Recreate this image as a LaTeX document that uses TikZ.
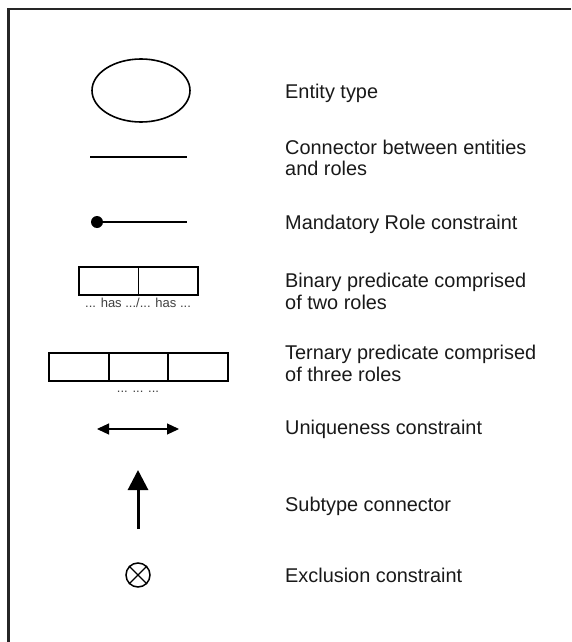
\documentclass[tikz,border=0pt]{standalone}
\usepackage{fontspec}
\setmainfont{Liberation Sans}
\usetikzlibrary{shapes.geometric,arrows.meta}
\begin{document}
\begin{tikzpicture}[x=1pt,y=-1pt,
  lbl/.style={font=\fontsize{19.9}{22}\selectfont, anchor=base west, inner sep=0pt, text=black!90},
  small/.style={font=\fontsize{13}{14}\selectfont, inner sep=0pt, text=black!75},
  rolebox/.style={draw, line width=1.8pt, rectangle, minimum width=59.5pt, minimum height=28pt, inner sep=0pt},
  thin/.style={line width=1.2pt},
  border/.style={line width=2.6pt, black!85}
]
\useasboundingbox (0,0) rectangle (571,642);
% frame (top and left only)
\coordinate (fr1) at (571,9);
\coordinate (fr2) at (8.5,9);
\coordinate (fr3) at (8.5,642);
\draw[border] (fr1) -- (fr2) -- (fr3);

% Entity type
\node[ellipse, draw, line width=1.6pt, minimum width=98pt, minimum height=63pt, inner sep=0pt] (ent) at (141,90.5) {};
\node[lbl] (tent) at (285,98) {Entity type};

% Connector
\coordinate (ca) at (90,157);
\coordinate (cb) at (187,157);
\draw[line width=1.8pt] (ca) -- (cb);
\node[lbl] (tcon1) at (285,154) {Connector between entities};
\node[lbl] (tcon2) at (285,175) {and roles};

% Mandatory role
\node[circle, fill=black, minimum size=12pt, inner sep=0pt] (mdot) at (97,222) {};
\coordinate (mb) at (187,222);
\draw[thin] (mdot) -- (mb);
\node[lbl] (tman) at (285,229) {Mandatory Role constraint};

% Binary predicate
\node[rolebox] (b1) at (108.75,281) {};
\node[rolebox] (b2) at (168.25,281) {};
\node[small] (bhas) at (138,303) {... has .../... has ...};
\node[lbl] (tbin1) at (285,287) {Binary predicate comprised};
\node[lbl] (tbin2) at (285,309) {of two roles};

% Ternary predicate
\node[rolebox] (t1) at (78.8,367) {};
\node[rolebox] (t2) at (138.5,367) {};
\node[rolebox] (t3) at (198.2,367) {};
\node[small] (tdots) at (138,392) {... ... ...};
\node[lbl] (tter1) at (285,359) {Ternary predicate comprised};
\node[lbl] (tter2) at (285,381) {of three roles};

% Uniqueness
\coordinate (ua) at (97,429);
\coordinate (ub) at (179,429);
\draw[thin, {Triangle[length=12pt,width=11pt]}-{Triangle[length=12pt,width=11pt]}] (ua) -- (ub);
\node[lbl] (tuni) at (285,434) {Uniqueness constraint};

% Subtype connector
\coordinate (sa) at (138,529);
\coordinate (sb) at (138,470);
\draw[line width=3pt, -{Triangle[length=20pt,width=20pt]}] (sa) -- (sb);
\node[lbl] (tsub) at (285,511) {Subtype connector};

% Exclusion
\node[circle, draw, line width=1.5pt, minimum size=24pt, inner sep=0pt] (ex) at (138,575) {};
\draw[line width=1.3pt] (ex.north east) -- (ex.south west);
\draw[line width=1.3pt] (ex.north west) -- (ex.south east);
\node[lbl] (texc) at (285,582) {Exclusion constraint};
\end{tikzpicture}
\end{document}
